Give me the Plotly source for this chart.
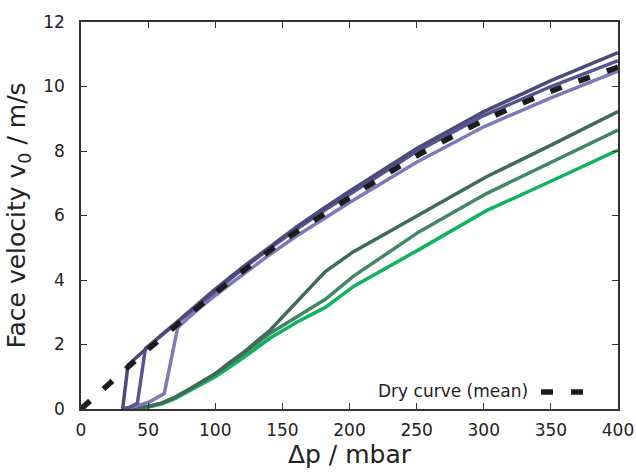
import plotly.graph_objects as go

# ---- data ----
dp_dry = [0, 50, 100, 150, 200, 250, 300, 350, 400]
v_dry = [0, 1.85, 3.6, 5.2, 6.55, 7.85, 8.95, 9.85, 10.6]

dp_p1 = [31, 35, 40, 50, 60, 70, 80, 90, 100, 120, 140, 160, 180, 200, 250, 300, 350, 400]
v_p1 = [0, 1.36, 1.55, 1.93, 2.3, 2.65, 3.0, 3.36, 3.72, 4.38, 5.02, 5.63, 6.2, 6.75, 8.08, 9.22, 10.18, 11.05]

dp_p2 = [31, 36, 42, 48, 60, 70, 80, 90, 100, 120, 140, 160, 180, 200, 250, 300, 350, 400]
v_p2 = [0, 0.05, 0.18, 1.88, 2.28, 2.62, 2.97, 3.32, 3.67, 4.33, 4.96, 5.56, 6.12, 6.66, 7.98, 9.1, 10.0, 10.8]

dp_p3 = [31, 40, 50, 62, 72, 80, 90, 100, 120, 140, 160, 180, 200, 250, 300, 350, 400]
v_p3 = [0, 0.08, 0.2, 0.48, 2.52, 2.83, 3.18, 3.52, 4.15, 4.77, 5.35, 5.88, 6.4, 7.65, 8.75, 9.65, 10.48]

dp_g = [35, 40, 50, 60, 70, 80, 90, 100, 110, 120, 141, 161, 182, 203, 252, 302, 352, 400]
v_g1 = [0, 0.02, 0.08, 0.18, 0.36, 0.6, 0.85, 1.1, 1.42, 1.72, 2.45, 3.32, 4.26, 4.88, 6.02, 7.2, 8.22, 9.22]
v_g2 = [0, 0.02, 0.08, 0.18, 0.36, 0.6, 0.84, 1.08, 1.38, 1.68, 2.35, 2.85, 3.4, 4.12, 5.5, 6.68, 7.7, 8.65]
v_g3 = [0, 0.01, 0.06, 0.15, 0.32, 0.55, 0.78, 1.0, 1.28, 1.56, 2.2, 2.7, 3.15, 3.8, 4.95, 6.15, 7.1, 8.03]

x_ticks = [0, 50, 100, 150, 200, 250, 300, 350, 400]
y_ticks = [0, 2, 4, 6, 8, 10, 12]

FONT = "DejaVu Sans"
fig = go.Figure()

for xs, ys, col in [(dp_g, v_g3, "#10b25f"), (dp_g, v_g2, "#418764"), (dp_g, v_g1, "#3d6b57"),
                    (dp_p3, v_p3, "#8079b8"), (dp_p2, v_p2, "#57558e"), (dp_p1, v_p1, "#4c4a7c")]:
    fig.add_trace(go.Scatter(x=xs, y=ys, mode="lines", line=dict(color=col, width=3.5),
                             showlegend=False, hoverinfo="skip"))

fig.add_trace(go.Scatter(x=dp_dry, y=v_dry, mode="lines", name="Dry curve (mean)",
                         line=dict(color="#1c1c1c", width=5.5, dash="12px,18px", shape="spline", smoothing=0.6),
                         showlegend=False))

# legend drawn manually (text left of the symbol)
fig.add_annotation(text="Dry curve (mean)", xref="paper", yref="paper", x=0.836, y=0.0465,
                   xanchor="right", yanchor="middle", showarrow=False,
                   font=dict(family=FONT, size=17, color="#222222"))
fig.add_shape(type="line", xref="paper", yref="paper", x0=0.8566, x1=0.9348, y0=0.0439, y1=0.0439,
              line=dict(color="#1c1c1c", width=5.5, dash="12px,18px"))

axis_common = dict(showgrid=False, zeroline=False, showline=True, linecolor="#333333", linewidth=1.5,
                   mirror="ticks", ticks="inside", ticklen=6, tickwidth=1, tickcolor="#333333",
                   tickfont=dict(family=FONT, size=17, color="#222222"))

fig.update_xaxes(range=[0, 400], tickvals=x_ticks, ticktext=[str(t) for t in x_ticks],
                 ticklabelstandoff=5,
                 title=dict(text="Δp / mbar", font=dict(family=FONT, size=25, color="#222222"), standoff=4),
                 **axis_common)
fig.update_yaxes(range=[0, 12], tickvals=y_ticks, ticktext=[str(t) for t in y_ticks],
                 ticklabelstandoff=11,
                 title=dict(text="Face velocity v<sub>0</sub> / m/s", font=dict(family=FONT, size=25, color="#222222"), standoff=10),
                 **axis_common)

fig.update_layout(width=636, height=473, margin=dict(l=81, r=18, t=22, b=64, autoexpand=False),
                  plot_bgcolor="white", paper_bgcolor="white", font=dict(family=FONT))

fig.write_html("out.html")
